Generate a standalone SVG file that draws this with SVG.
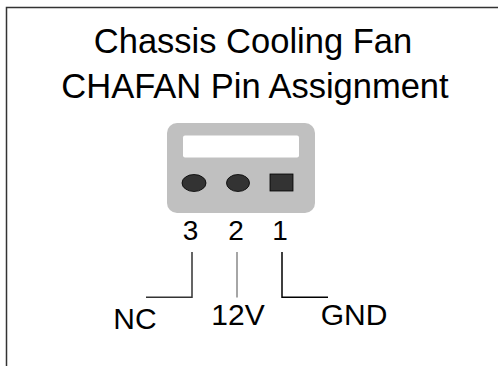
<svg xmlns="http://www.w3.org/2000/svg" width="498" height="366" viewBox="0 0 498 366">
<style>
text{font-family:"Liberation Sans",Arial,sans-serif;fill:#000}
.title{font-size:34.5px;text-anchor:middle}
.pin{font-size:28px;text-anchor:middle}
.lbl{font-size:30px;text-anchor:middle}
.pindot{fill:#333333;stroke:#000;stroke-width:0.8}
</style>
<rect width="498" height="366" fill="#ffffff"/>
<g id="frame" fill="none" stroke="#333" stroke-width="1.5">
<path d="M6.5,366 V7.5 H498"/>
</g>
<g id="title">
<text class="title" x="253" y="53">Chassis Cooling Fan</text>
<text class="title" x="255" y="98">CHAFAN Pin Assignment</text>
</g>
<g id="connector">
<rect x="167" y="123" width="148" height="90" rx="10" fill="#c0c0c0"/>
<rect x="183" y="135.5" width="116" height="22" rx="2" fill="#ffffff"/>
<ellipse class="pindot" cx="194" cy="183" rx="12" ry="8.5"/>
<ellipse class="pindot" cx="238" cy="183" rx="11.5" ry="8.5"/>
<rect class="pindot" x="270" y="174" width="23" height="17"/>
</g>
<g id="pin-numbers">
<text class="pin" x="190.5" y="240">3</text>
<text class="pin" x="236" y="240">2</text>
<text class="pin" x="280" y="240">1</text>
</g>
<g id="connectors" fill="none" stroke-width="1.5">
<path d="M192,252 V297.3 H146" stroke="#333"/>
<path d="M237,252 V297.5" stroke="#888"/>
<path d="M282,252 V297.3 H328" stroke="#000"/>
</g>
<g id="label-nc"><text class="lbl" x="135" y="329">NC</text></g>
<g id="label-12v"><text class="lbl" x="238" y="325">12V</text></g>
<g id="label-gnd"><text class="lbl" x="354" y="325">GND</text></g>
</svg>
